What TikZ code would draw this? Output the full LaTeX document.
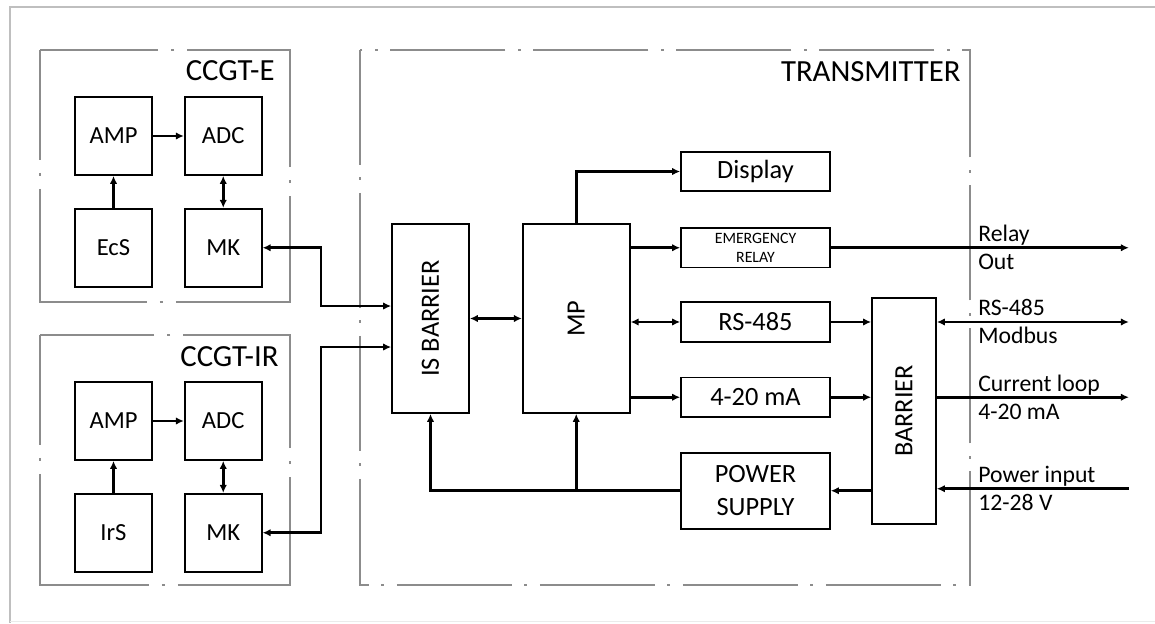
\documentclass[tikz,border=0pt]{standalone}
\usepackage{fontspec}
\setmainfont{Carlito}
\usetikzlibrary{arrows.meta, positioning, calc}
\tikzset{
    blockdiagram/.style={>={Latex[length=4.5pt,width=4.2pt]}, line width=1.6pt, x=0.02cm, y=-0.02cm},
    block/.style={draw, line width=1pt, inner sep=0pt, align=center, font=\fontsize{15}{18.5}\selectfont},
    sensor/.style={minimum width=1.54cm, minimum height=1.56cm, font=\fontsize{14}{16}\selectfont},
    wide/.style={minimum width=2.98cm, minimum height=0.79cm},
    % dash-dot frames of the units
    frame/.style={draw=black!45, line width=1.5pt, dash pattern=on 4.4cm off 0.26cm on 0.06cm off 0.26cm, dash phase=2.2cm},
    outer/.style={draw=black!25, line width=1.6pt},
    grouplabel/.style={font=\fontsize{17.5}{20}\selectfont, anchor=east, inner sep=0pt},
    portlabel/.style={font=\fontsize{13.5}{16}\selectfont, anchor=base west, inner sep=0pt},
}
\begin{document}
\begin{tikzpicture}[blockdiagram]
    \useasboundingbox (0,0) rectangle (1155,623);
    \draw[outer] (1155,7) -- (10,7) -- (10,623);
    \draw[black!8, line width=0.6pt] (10,621.5) -- (1155,621.5);

    % units
    \draw[frame] (40,50) rectangle (290,302);
    \draw[frame] (40,335) rectangle (290,585);
    \draw[frame, dash pattern=on 2.3cm off 0.25cm on 0.06cm off 0.25cm, dash phase=0cm] (360,50) rectangle (970,585);
    \node[grouplabel] (lble)  at (276,71)  {CCGT-E};
    \node[grouplabel] (lblir) at (280,357) {CCGT-IR};
    \node[grouplabel] (lbltx) at (962,72)  {TRANSMITTER};

    % CCGT-E
    \node[block, sensor]                     (amp1) at (113.5,136) {AMP};
    \node[block, sensor, right=0.62cm of amp1] (adc1) {ADC};
    \node[block, sensor, below=0.64cm of amp1] (ecs)  {EcS};
    \node[block, sensor, below=0.64cm of adc1] (mk1)  {MK};

    % CCGT-IR
    \node[block, sensor]                     (amp2) at (113.5,421) {AMP};
    \node[block, sensor, right=0.62cm of amp2] (adc2) {ADC};
    \node[block, sensor, below=0.64cm of amp2] (irs)  {IrS};
    \node[block, sensor, below=0.64cm of adc2] (mk2)  {MK};

    % transmitter
    \node[block, minimum width=1.54cm, minimum height=3.78cm] (isb) at (430.5,318.5) {\rotatebox{90}{IS BARRIER}};
    \node[block, minimum width=2.14cm, minimum height=3.78cm, right=1.04cm of isb] (mp) {\rotatebox{90}{MP}};
    \node[block, wide]                       (disp) at (755.5,171.5) {Display};
    \node[block, wide, below=0.7cm of disp, font=\fontsize{9}{10.8}\selectfont] (er) {EMERGENCY\\RELAY};
    \node[block, wide, below=0.66cm of er]   (rs)  {RS-485};
    \node[block, wide, below=0.68cm of rs]   (ma)  {4-20 mA};
    \node[block, wide, minimum height=1.52cm, below=0.68cm of ma] (ps) {POWER\\SUPPLY};
    \node[block, minimum width=1.28cm, minimum height=4.52cm] (bar) at (904,411) {\rotatebox{90}{BARRIER}};

    \coordinate (j1) at (321,306);
    \coordinate (j2) at (321,347);
    \coordinate (relayout) at ($(er.east)+(298,0)$);
    \coordinate (rsout)    at ($(bar.east |- rs)+(192,0)$);
    \coordinate (loopout)  at ($(bar.east |- ma)+(192,0)$);
    \coordinate (powin)    at ($(bar.east |- ps)+(192,-2)$);

    % port labels
    \node[portlabel] (relay1) at ($(er.east)+(146,-6)$) {Relay};
    \node[portlabel] (relay2) at ($(er.east)+(146,22)$) {Out};
    \node[portlabel] (rs1)    at ($(bar.east |- rs)+(40,-6)$) {RS-485};
    \node[portlabel] (rs2)    at ($(bar.east |- rs)+(40,22)$) {Modbus};
    \node[portlabel] (loop1)  at ($(bar.east |- ma)+(40,-6)$) {Current loop};
    \node[portlabel] (loop2)  at ($(bar.east |- ma)+(40,22)$) {4-20 mA};
    \node[portlabel] (pow1)   at ($(powin -| bar.east)+(40,-6)$) {Power input};
    \node[portlabel] (pow2)   at ($(powin -| bar.east)+(40,22)$) {12-28 V};

    \draw[->]  (amp1) -- (adc1);
    \draw[->]  (ecs) -- (amp1);
    \draw[<->] (adc1) -- (mk1);
    \draw[->]  (amp2) -- (adc2);
    \draw[->]  (irs) -- (amp2);
    \draw[<->] (adc2) -- (mk2);

    \draw[<->] (mk1.east) -| (j1) -- (j1 -| isb.west);
    \draw[<->] (mk2.east) -| (j2) -- (j2 -| isb.west);

    \draw[<->] (isb) -- (mp);
    \draw[->]  (mp.north) |- (disp.west);
    \draw[->]  (mp.east |- er) -- (er.west);
    \draw[<->] (mp.east |- rs) -- (rs.west);
    \draw[->]  (mp.east |- ma) -- (ma.west);

    % supply rails
    \draw[->]  (ps.west) -| (isb.south);
    \draw[->]  (ps.west -| mp.south) -- (mp.south);

    \draw[->]  (rs.east) -- (rs.east -| bar.west);
    \draw[->]  (ma.east) -- (ma.east -| bar.west);
    \draw[->]  (bar.west |- ps) -- (ps.east);

    \draw[->]  (er.east) -- (relayout);
    \draw[<->] (bar.east |- rs) -- (rsout);
    \draw[->]  (bar.east |- ma) -- (loopout);
    \draw[->]  (powin) -- (powin -| bar.east);
\end{tikzpicture}
\end{document}
